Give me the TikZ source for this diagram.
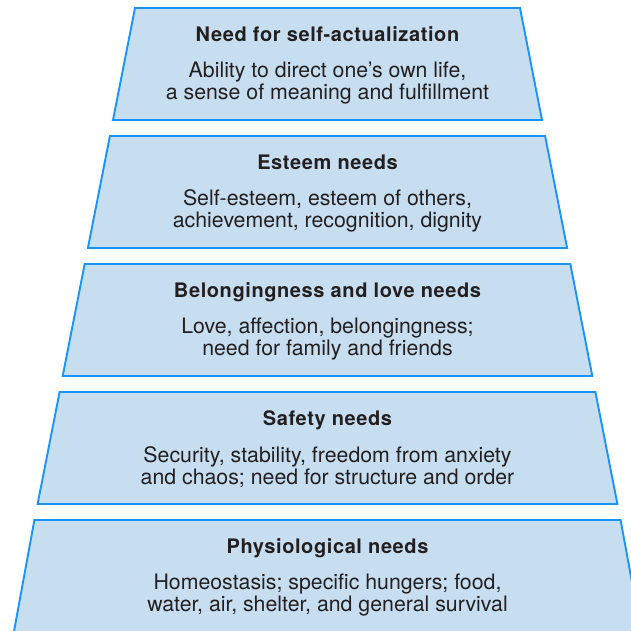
\documentclass[tikz,border=0pt]{standalone}
\usepackage{fontspec}
\setmainfont{TeX Gyre Heros}
\newfontfamily\headfont[LetterSpace=3]{TeX Gyre Heros}

\definecolor{levelfill}{RGB}{199,222,240}
\definecolor{levelline}{RGB}{24,148,250}
\definecolor{inktext}{RGB}{35,31,32}

\begin{document}
\begin{tikzpicture}[x=1pt,y=-1pt]

% definitions
\tikzstyle{level} = [draw=levelline, fill=levelfill, line width=1.9pt, line join=miter]

\tikzstyle{heading} = [text=inktext, anchor=base, font=\headfont\fontsize{20}{22}\selectfont\bfseries]

\tikzstyle{detail} = [text=inktext, align=center, font=\fontsize{21.3}{22.7}\selectfont]

\clip (0,0) rectangle (631,630);

% the pyramid
\draw [level] (135,8) -- (520,8) -- (542,120) -- (113,120) -- cycle;

\draw [level] (109.9,136) -- (545.1,136) -- (567.1,248) -- (87.9,248) -- cycle;

\draw [level] (84.7,264) -- (570.3,264) -- (592.3,376) -- (62.7,376) -- cycle;

\draw [level] (59.6,392) -- (595.4,392) -- (617.4,504) -- (37.6,504) -- cycle;

\draw [level] (34.4,520) -- (620.6,520) -- (642.6,640) -- (12.4,640) -- cycle;

% the texts
\node (h1) [heading] at (327.5,41) {Need for self-actualization};
\node (d1) [detail] at (327.5,83) {Ability to direct one’s own life,\\a sense of meaning and fulfillment};

\node (h2) [heading] at (327.5,169) {Esteem needs};
\node (d2) [detail] at (327.5,211) {Self-esteem, esteem of others,\\achievement, recognition, dignity};

\node (h3) [heading] at (327.5,297) {Belongingness and love needs};
\node (d3) [detail] at (327.5,339) {Love, affection, belongingness;\\need for family and friends};

\node (h4) [heading] at (327.5,425) {Safety needs};
\node (d4) [detail] at (327.5,467) {Security, stability, freedom from anxiety\\and chaos; need for structure and order};

\node (h5) [heading] at (327.5,553) {Physiological needs};
\node (d5) [detail] at (327.5,595) {Homeostasis; specific hungers; food,\\water, air, shelter, and general survival};

\end{tikzpicture}
\end{document}
